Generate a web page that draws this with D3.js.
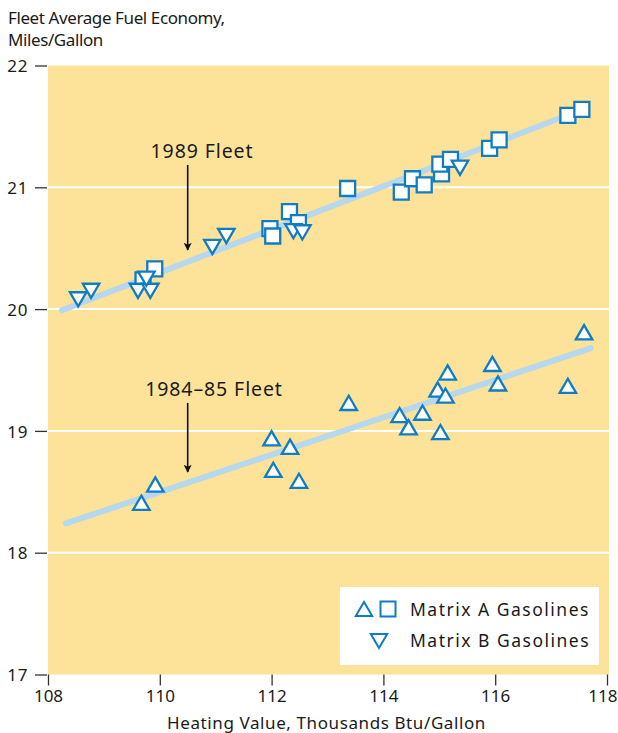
<!DOCTYPE html>
<html>
<head>
<meta charset="utf-8">
<script src="https://cdn.jsdelivr.net/npm/d3@7"></script>
<style>
  body { margin: 0; background: #fff; }
  text { font-family: "Noto Sans", sans-serif; fill: #1a1a1a; }
</style>
</head>
<body>
<svg id="chart" width="618" height="733"></svg>
<script>
// 1989 fleet, matrix A (squares)
let fleet89A = [
  [109.70, 20.24], [109.91, 20.33], [111.97, 20.66], [112.02, 20.60],
  [112.32, 20.80], [112.48, 20.71], [113.36, 20.99], [114.32, 20.96],
  [114.52, 21.07], [114.73, 21.02], [115.04, 21.11], [115.01, 21.19],
  [115.20, 21.23], [115.90, 21.32], [116.07, 21.39], [117.30, 21.59],
  [117.55, 21.64]
];
// 1989 fleet, matrix B (inverted triangles)
let fleet89B = [
  [108.54, 20.08], [108.77, 20.15], [109.61, 20.15], [109.83, 20.15],
  [109.76, 20.25], [110.94, 20.51], [111.19, 20.60], [112.39, 20.64],
  [112.55, 20.63], [115.37, 21.16]
];
// 1984-85 fleet, matrix A (triangles)
let fleet84A = [
  [109.67, 18.41], [109.92, 18.56], [112.00, 18.94], [112.33, 18.87],
  [112.03, 18.68], [112.49, 18.59], [113.38, 19.23], [114.29, 19.13],
  [114.45, 19.03], [114.70, 19.15], [115.02, 18.99], [114.97, 19.34],
  [115.11, 19.29], [115.15, 19.48], [115.95, 19.55], [116.05, 19.39],
  [117.30, 19.37], [117.59, 19.81]
];
// droites de tendance
let trend89 = [[108.25, 19.99], [117.45, 21.62]];
let trend84 = [[108.32, 18.24], [117.71, 19.68]];

let xTicks = [108, 110, 112, 114, 116, 118];
let yTicks = [17, 18, 19, 20, 21, 22];

let titreY = ["Fleet Average Fuel Economy,", "Miles/Gallon"];
let titreX = "Heating Value, Thousands Btu/Gallon";
let legende = ["Matrix A Gasolines", "Matrix B Gasolines"];

const jaune = "#fde399";
const bleu = "#0f7cc3";
const bleuClair = "#b6d7ec";

let svg = d3.select("#chart");

let x = d3.scaleLinear().domain([108, 118]).range([48, 607]);
let y = d3.scaleLinear().domain([17, 22]).range([674.5, 65.5]);

// fond
svg.append("rect")
  .attr("x", x(108)).attr("y", y(22))
  .attr("width", x(118) - x(108) + 2)
  .attr("height", y(17) - y(22))
  .style("fill", jaune);

// grille
svg.append("g")
  .selectAll("line")
  .data(yTicks.filter(d => d > 17 && d < 22))
  .enter().append("line")
  .attr("x1", x(108)).attr("x2", x(118) + 2)
  .attr("y1", d => y(d)).attr("y2", d => y(d))
  .style("stroke", "#fff").style("stroke-width", 2);

// axes
let axeY = svg.append("g")
  .attr("transform", `translate(${x(108) - 1},0)`)
  .call(d3.axisLeft(y).tickValues(yTicks).tickFormat(d3.format("d")).tickSize(12).tickPadding(7));
let axeX = svg.append("g")
  .attr("transform", `translate(0,${y(17)})`)
  .call(d3.axisBottom(x).tickValues(xTicks).tickFormat(d3.format("d")).tickSize(11).tickPadding(4));

[axeY, axeX].forEach(a => {
  a.select(".domain").remove();
  a.selectAll("line").style("stroke", "#333").style("stroke-width", 1.3);
  a.selectAll("text")
    .style("font-size", "17px")
    .style("fill", "#1a1a1a")
    .style("font-family", "'Noto Sans', sans-serif");
});
axeY.selectAll("text").attr("dy", "0.36em").style("letter-spacing", "0.6px");
// le dernier libellé touche le bord droit
axeX.selectAll("text").filter(d => d === 118).attr("text-anchor", "end").attr("dx", 10);

// titres
svg.append("g").selectAll("text")
  .data(titreY)
  .enter().append("text")
  .attr("x", 8)
  .attr("y", (d, i) => 24 + i * 22)
  .style("font-size", "17px")
  .style("letter-spacing", "-0.4px")
  .text(d => d);

svg.append("text")
  .attr("x", (x(108) + x(118)) / 2 - 1)
  .attr("y", 729)
  .attr("text-anchor", "middle")
  .style("font-size", "17px")
  .style("letter-spacing", "0.6px")
  .text(titreX);

// droites
let ligne = d3.line().x(d => x(d[0])).y(d => y(d[1]));
[trend89, trend84].forEach(t => {
  svg.append("path")
    .datum(t)
    .attr("d", ligne)
    .style("fill", "none")
    .style("stroke", bleuClair)
    .style("stroke-width", 6)
    .style("stroke-linecap", "round");
});

// symboles
function triangle(haut, w) {
  let h = w * 0.86;
  return haut
    ? `M0,${-h / 2}L${w / 2},${h / 2}L${-w / 2},${h / 2}Z`
    : `M0,${h / 2}L${w / 2},${-h / 2}L${-w / 2},${-h / 2}Z`;
}

function dessiner(data, forme) {
  let g = svg.append("g");
  let sel = g.selectAll("path")
    .data(data)
    .enter().append("path")
    .attr("transform", d => `translate(${x(d[0])},${y(d[1])})`)
    .style("fill", "#fff")
    .style("stroke", bleu)
    .style("stroke-width", 2.3)
    .style("stroke-linejoin", "miter");
  if (forme === "carre") sel.attr("d", "M-7.5,-7.5H7.5V7.5H-7.5Z");
  else sel.attr("d", triangle(forme === "haut", 16.5));
}

dessiner(fleet84A, "haut");
dessiner(fleet89A, "carre");
dessiner(fleet89B, "bas");

// annotations
svg.append("defs").append("marker")
  .attr("id", "fleche")
  .attr("viewBox", "0 0 10 10")
  .attr("refX", 9).attr("refY", 5)
  .attr("markerWidth", 5).attr("markerHeight", 5)
  .attr("markerUnits", "strokeWidth")
  .attr("orient", "auto")
  .append("path")
  .attr("d", "M0,0L10,5L0,10L2.5,5Z")
  .style("fill", "#111");

let annotations = [
  { texte: "1989 Fleet", tx: 202, ty: 158, ax: 187.7, y1: 165, y2: 252 },
  { texte: "1984\u201385 Fleet", tx: 214, ty: 396, ax: 187.7, y1: 403, y2: 474 }
];
annotations.forEach(a => {
  svg.append("text")
    .attr("x", a.tx).attr("y", a.ty)
    .attr("text-anchor", "middle")
    .style("font-size", "19.5px")
    .style("letter-spacing", "0.9px")
    .text(a.texte);
  svg.append("line")
    .attr("x1", a.ax).attr("x2", a.ax)
    .attr("y1", a.y1).attr("y2", a.y2 - 2)
    .style("stroke", "#111").style("stroke-width", 1.6)
    .attr("marker-end", "url(#fleche)");
});

// légende
let leg = svg.append("g");
leg.append("rect")
  .attr("x", 340).attr("y", 587)
  .attr("width", 259).attr("height", 78)
  .style("fill", "#fff");

let symLeg = [
  { f: "haut", cx: 364, cy: 609 },
  { f: "carre", cx: 388, cy: 609 },
  { f: "bas", cx: 379, cy: 641 }
];
leg.selectAll("path")
  .data(symLeg)
  .enter().append("path")
  .attr("transform", d => `translate(${d.cx},${d.cy})`)
  .attr("d", d => d.f === "carre" ? "M-7.5,-7.5H7.5V7.5H-7.5Z" : triangle(d.f === "haut", 16.5))
  .style("fill", "#fff")
  .style("stroke", bleu)
  .style("stroke-width", 2);

leg.selectAll("text")
  .data(legende)
  .enter().append("text")
  .attr("x", 410)
  .attr("y", (d, i) => 616 + i * 31)
  .style("font-size", "17.5px")
  .style("letter-spacing", "1.5px")
  .text(d => d);
</script>
</body>
</html>
